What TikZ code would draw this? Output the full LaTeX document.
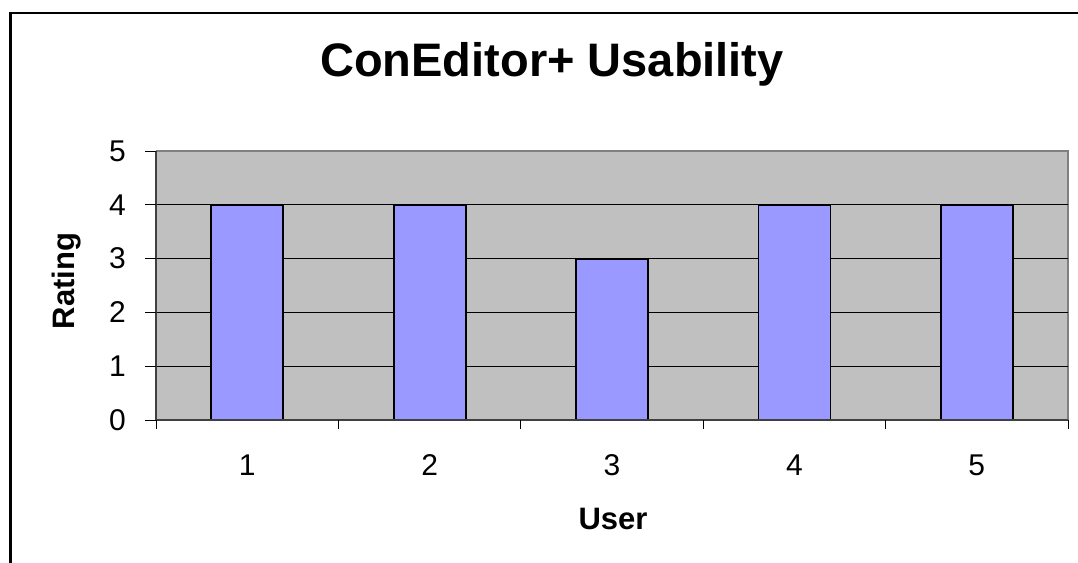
\documentclass[tikz,border=0pt]{standalone}
\usepackage{fontspec}
\setmainfont{Liberation Sans}
\definecolor{plotgray}{HTML}{C0C0C0}
\definecolor{bordergray}{HTML}{808080}
\definecolor{barblue}{HTML}{9999FF}
\begin{document}
\begin{tikzpicture}[x=1pt,y=-1pt,line join=miter,
	ticklabel/.style={inner sep=0pt,font=\fontsize{30}{32}\selectfont},
	axislabel/.style={inner sep=0pt,font=\fontsize{31}{33}\selectfont\bfseries}]
			\def\xl{156} \def\xr{1068}
			\def\yb{420} \def\unit{53.8}
			\def\cw{182.4} \def\bw{72}
			\useasboundingbox (0,0) rectangle (1078,562);
			% frame and plot area
			\draw[line width=2.5pt] (10.5,13) rectangle (1095,580);
			\fill[plotgray] (\xl,{\yb-5*\unit}) rectangle (\xr,\yb);
			\draw[bordergray,line width=1.5pt] (\xl,{\yb-5*\unit})--(\xr,{\yb-5*\unit})--(\xr,\yb);
			\foreach \v in {1,...,4}
				\draw[line width=1pt] (\xl,{\yb-\v*\unit})--(\xr,{\yb-\v*\unit});
			% bars
			\foreach \i/\h in {1/4,2/4,3/3,4/4,5/4}
				\draw[fill=barblue,line width=1.8pt] ({\xl+(\i-0.5)*\cw-\bw/2},\yb) rectangle ({\xl+(\i-0.5)*\cw+\bw/2},{\yb-\h*\unit});
			% axes and ticks
			\draw[black!75,line width=1.3pt] (\xl,{\yb-5*\unit})--(\xl,\yb)--(\xr,\yb);
			\foreach \v in {0,...,5}{
				\draw[line width=1pt] (145,{\yb-\v*\unit})--(\xl,{\yb-\v*\unit});
				\node[ticklabel,anchor=east] (y\v) at (126,{\yb-\v*\unit}) {\v};
			}
			\foreach \i in {0,...,5}
				\draw[line width=1pt] ({\xl+\i*\cw},\yb)--({\xl+\i*\cw},429);
			\foreach \i in {1,...,5}
				\node[ticklabel,anchor=base] (x\i) at ({\xl+(\i-0.5)*\cw},475) {\i};
			% titles
			\node[inner sep=0pt,anchor=base,font=\fontsize{47}{50}\selectfont\bfseries] (title) at (552,76) {ConEditor+ Usability};
			\node[axislabel,anchor=base] (user) at (613,529) {User};
			\node[axislabel,anchor=base,rotate=90] (rating) at (74,281) {Rating};
\end{tikzpicture}
\end{document}
